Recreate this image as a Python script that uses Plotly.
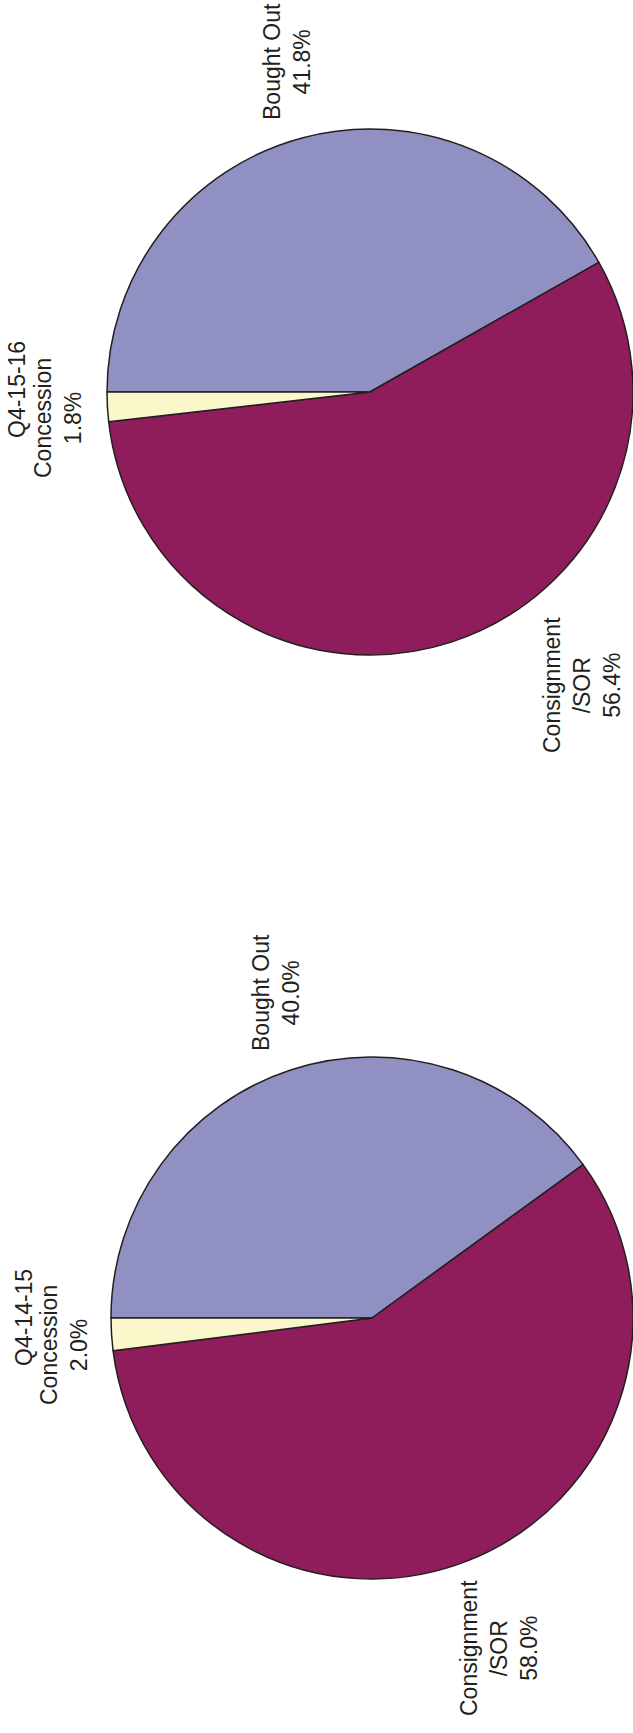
import plotly.graph_objects as go

W, H = 633, 1733

# ---- data ----
categories = ["Bought Out", "Consignment/SOR", "Concession"]
label_text = ["Bought Out", "Consignment<br>/SOR", "Concession"]
colors = ["#9090C2", "#8F1D5B", "#FAF8CA"]

periods = ["Q4-15-16", "Q4-14-15"]
values_q4_15_16 = [41.8, 56.4, 1.8]
values_q4_14_15 = [40.0, 58.0, 2.0]

# ---- layout (pixels, measured from top-left) ----
pies = [
    dict(period=periods[0], values=values_q4_15_16, cx=370, cy=392, r=263,
         lab_pos=[(287, 62), (582, 685), (58, 418)], title_pos=(17, 390)),
    dict(period=periods[1], values=values_q4_14_15, cx=372, cy=1318, r=261,
         lab_pos=[(276, 993), (499, 1648), (64, 1345)], title_pos=(24, 1318)),
]

FONT = "Arial, Liberation Sans, Helvetica, sans-serif"
TXT = "#231F20"

fig = go.Figure()
annotations = []
for p in pies:
    x0 = (p["cx"] - p["r"]) / W
    x1 = min(1.0, (p["cx"] + p["r"]) / W)
    y0 = 1 - (p["cy"] + p["r"]) / H
    y1 = 1 - (p["cy"] - p["r"]) / H
    fig.add_trace(go.Pie(
        labels=categories, values=p["values"], sort=False,
        direction="clockwise", rotation=-90,
        marker=dict(colors=colors, line=dict(color=TXT, width=1.5)),
        textinfo="none", hoverinfo="label+percent",
        domain=dict(x=[x0, x1], y=[y0, y1]), showlegend=False,
    ))
    for lt, v, (px, py) in zip(label_text, p["values"], p["lab_pos"]):
        annotations.append(dict(
            text=f"{lt}<br>{v:.1f}%", x=px / W, y=1 - py / H,
            xref="paper", yref="paper", xanchor="center", yanchor="middle",
            showarrow=False, textangle=-90,
            font=dict(family=FONT, size=23, color=TXT),
        ))
    tx, ty = p["title_pos"]
    annotations.append(dict(
        text=p["period"], x=tx / W, y=1 - ty / H,
        xref="paper", yref="paper", xanchor="center", yanchor="middle",
        showarrow=False, textangle=-90,
        font=dict(family=FONT, size=23, color=TXT),
    ))

fig.update_layout(
    width=W, height=H, margin=dict(l=0, r=0, t=0, b=0),
    paper_bgcolor="white", plot_bgcolor="white",
    annotations=annotations,
)

fig.write_html("out.html")
